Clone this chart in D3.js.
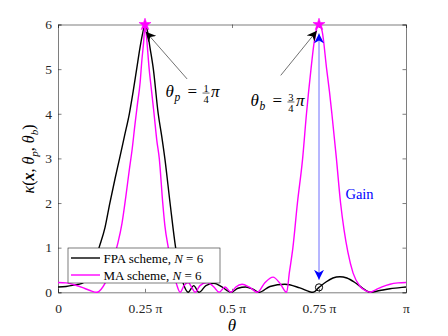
<!DOCTYPE html>
<html>
<head>
<meta charset="utf-8">
<script src="https://cdn.jsdelivr.net/npm/d3@7"></script>
<style>
  body { margin: 0; background: #fff; }
  svg text { font-family: "Liberation Serif", "Times New Roman", Times, serif; }
</style>
</head>
<body>
<svg id="chart" width="448" height="336"></svg>
<script>
// theta in units of pi
var thetaFPA = [0, 0.023, 0.046, 0.069, 0.092, 0.106, 0.118, 0.135, 0.149, 0.164, 0.177, 0.191, 0.205, 0.216, 0.226, 0.236, 0.244, 0.25,
  0.257, 0.264, 0.274, 0.288, 0.298, 0.307, 0.322, 0.338, 0.351, 0.362, 0.374, 0.39, 0.405, 0.425, 0.448, 0.471, 0.497,
  0.517, 0.54, 0.56, 0.578, 0.609, 0.652, 0.695, 0.733, 0.75, 0.77, 0.79, 0.81, 0.83, 0.853, 0.874, 0.897, 0.925, 0.954, 0.977, 1]
var kappaFPA = [0.12, 0.13, 0.16, 0.2, 0.42, 0.7, 1.0, 1.45, 2.0, 2.55, 3.0, 3.5, 4.0, 4.5, 5.0, 5.5, 5.83, 6.0,
  5.85, 5.5, 5.0, 4.0, 3.5, 3.0, 2.0, 1.0, 0.45, 0.15, 0, 0.15, 0, 0.15, 0.2, 0.12, 0,
  0.09, 0.12, 0.07, 0, 0.13, 0.18, 0.1, 0, 0.11, 0.23, 0.32, 0.35, 0.32, 0.22, 0.1, 0, 0.04, 0.08, 0.1, 0.12]

var thetaMA = [0, 0.023, 0.046, 0.069, 0.092, 0.112, 0.124, 0.135, 0.147, 0.158, 0.172, 0.184, 0.195, 0.205, 0.213, 0.221, 0.228, 0.236, 0.241, 0.246, 0.25,
  0.254, 0.262, 0.269, 0.276, 0.284, 0.291, 0.301, 0.307, 0.317, 0.328, 0.34, 0.351, 0.362, 0.374, 0.385, 0.394, 0.408, 0.428, 0.448, 0.463,
  0.48, 0.497, 0.511, 0.529, 0.549, 0.573, 0.595, 0.618, 0.638, 0.657, 0.665, 0.675, 0.688, 0.703, 0.714, 0.727, 0.736, 0.743, 0.75,
  0.759, 0.772, 0.78, 0.787, 0.8, 0.812, 0.822, 0.833, 0.848, 0.868, 0.885, 0.897, 0.914, 0.931, 0.954, 0.977, 1]
var kappaMA = [0.22, 0.21, 0.17, 0.11, 0.04, 0, 0.07, 0.2, 0.42, 0.72, 1.1, 1.55, 2.15, 2.75, 3.2, 3.75, 4.2, 4.7, 5.2, 5.6, 6.0,
  5.75, 5.0, 4.5, 4.0, 3.4, 3.0, 2.0, 1.5, 1.0, 0.55, 0.2, 0, 0.15, 0.22, 0.1, 0, 0.15, 0.22, 0.12, 0,
  0.12, 0, 0.12, 0.18, 0.12, 0, 0.22, 0.34, 0.2, 0, 0.45, 1.0, 2.0, 3.0, 4.0, 5.0, 5.6, 5.9, 6.0,
  5.85, 5.0, 4.5, 4.0, 3.0, 2.0, 1.4, 0.9, 0.43, 0.13, 0.03, 0, 0.06, 0.12, 0.18, 0.21, 0.22]

var xTicks = [0, 0.25, 0.5, 0.75, 1]
var xTickLabels = ["0", "0.25 \u03c0", "0.5 \u03c0", "0.75 \u03c0", "\u03c0"]
var yTicks = [0, 1, 2, 3, 4, 5, 6]
var seriesNames = ["FPA scheme, ", "MA scheme, "]
var seriesColors = ["#000000", "#ff00ff"]
var thetaP = 0.25, thetaB = 0.75

var svg = d3.select("#chart")
var plotL = 58, plotR = 406, plotT = 24.5, plotB = 292.3

var x = d3.scaleLinear().domain([0, 1]).range([plotL, plotR])
var y = d3.scaleLinear().domain([0, 6]).range([plotB, plotT])

var axisColor = "#262626"
var serif = "'Liberation Serif', 'Times New Roman', serif"

// axes with inward ticks, MATLAB box style
svg.append("g").attr("transform", "translate(0," + plotB + ")")
  .call(d3.axisBottom(x).tickValues(xTicks).tickFormat((d, i) => xTickLabels[i]).tickSize(-3.5).tickPadding(11))
svg.append("g").attr("transform", "translate(0," + plotT + ")")
  .call(d3.axisTop(x).tickValues(xTicks).tickFormat("").tickSize(-3.5))
svg.append("g").attr("transform", "translate(" + plotL + ",0)")
  .call(d3.axisLeft(y).tickValues(yTicks).tickFormat(d3.format("d")).tickSize(-3.5).tickPadding(6))
svg.append("g").attr("transform", "translate(" + plotR + ",0)")
  .call(d3.axisRight(y).tickValues(yTicks).tickFormat("").tickSize(-3.5))

svg.selectAll("g").attr("font-family", serif)
svg.selectAll(".domain").attr("stroke", axisColor).attr("stroke-width", 0.6)
svg.selectAll(".tick line").attr("stroke", axisColor).attr("stroke-width", 0.6)
svg.selectAll(".tick text").attr("fill", "#262626").style("font-size", "13.5px")

var line = d3.line()
  .x(d => x(d[0]))
  .y(d => y(d[1]))
  .curve(d3.curveMonotoneX)

var fpa = thetaFPA.map((t, i) => [t, kappaFPA[i]])
var ma = thetaMA.map((t, i) => [t, kappaMA[i]])

svg.append("path").datum(fpa).attr("d", line)
  .attr("fill", "none").attr("stroke", seriesColors[0]).attr("stroke-width", 1.4)
svg.append("path").datum(ma).attr("d", line)
  .attr("fill", "none").attr("stroke", seriesColors[1]).attr("stroke-width", 1.4)

// markers
var peakMA = ma.filter(d => d[0] == thetaP || d[0] == thetaB)
svg.selectAll(".star").data(peakMA).enter().append("path")
  .attr("transform", d => "translate(" + x(d[0]) + "," + y(d[1]) + ")")
  .attr("d", d3.symbol().type(d3.symbolStar).size(45))
  .attr("fill", "#ff00ff").attr("stroke", "#ff00ff").attr("stroke-width", 0.6)

var fpaAtB = fpa.find(d => d[0] == thetaB)
svg.append("circle").attr("cx", x(fpaAtB[0])).attr("cy", y(fpaAtB[1])).attr("r", 3.6)
  .attr("fill", "none").attr("stroke", "#000").attr("stroke-width", 1)

// arrowheads
var defs = svg.append("defs")
function marker(id, color) {
  defs.append("marker").attr("id", id)
    .attr("viewBox", "0 0 10 10").attr("refX", 10).attr("refY", 5)
    .attr("markerWidth", 10).attr("markerHeight", 10)
    .attr("markerUnits", "userSpaceOnUse")
    .attr("orient", "auto-start-reverse")
    .append("path").attr("d", "M0,0 L10,5 L0,10 L3,5 Z").attr("fill", color)
}
marker("arrK", "#000")
marker("arrB", "#0000ff")

// annotation arrows
svg.append("line")
  .attr("x1", x(0.371)).attr("y1", y(4.78)).attr("x2", x(0.252)).attr("y2", y(5.84))
  .attr("stroke", "#333").attr("stroke-width", 0.7).attr("marker-end", "url(#arrK)")
svg.append("line")
  .attr("x1", x(0.64)).attr("y1", y(4.86)).attr("x2", x(0.744)).attr("y2", y(5.86))
  .attr("stroke", "#333").attr("stroke-width", 0.7).attr("marker-end", "url(#arrK)")

svg.append("line")
  .attr("x1", x(thetaB)).attr("y1", y(0.28)).attr("x2", x(thetaB)).attr("y2", y(5.8))
  .attr("stroke", "#4a4aff").attr("stroke-width", 0.8)
  .attr("marker-start", "url(#arrB)").attr("marker-end", "url(#arrB)")

svg.append("text").attr("x", x(0.826)).attr("y", y(2.2) + 5)
  .attr("fill", "#0000ff").style("font-size", "14.5px").text("Gain")

// theta = fraction * pi labels
function thetaLabel(px, py, sub, num, den) {
  var g = svg.append("g").attr("transform", "translate(" + px + "," + py + ")")
  g.append("text").attr("x", 0).attr("y", 0).style("font-size", "17px").style("font-style", "italic").text("\u03b8")
  g.append("text").attr("x", 9).attr("y", 4).style("font-size", "11.5px").style("font-style", "italic").text(sub)
  g.append("text").attr("x", 22).attr("y", 0).style("font-size", "17px").text("=")
  g.append("text").attr("x", 40.5).attr("y", -5.5).attr("text-anchor", "middle").style("font-size", "10.5px").text(num)
  g.append("line").attr("x1", 37).attr("x2", 44).attr("y1", -4.2).attr("y2", -4.2).attr("stroke", "#000").attr("stroke-width", 0.6)
  g.append("text").attr("x", 40.5).attr("y", 5.5).attr("text-anchor", "middle").style("font-size", "10.5px").text(den)
  g.append("text").attr("x", 45.5).attr("y", 0).style("font-size", "17px").style("font-style", "italic").text("\u03c0")
}
thetaLabel(x(0.309), y(4.37), "p", "1", "4")
thetaLabel(x(0.553), y(4.17), "b", "3", "4")

// axis labels
svg.append("text").attr("x", x(0.5)).attr("y", 331).attr("text-anchor", "middle")
  .style("font-size", "17px").style("font-style", "italic").text("\u03b8")

var yl = svg.append("text").attr("transform", "translate(34,159) rotate(-90)")
  .attr("text-anchor", "middle").style("font-size", "16px")
yl.append("tspan").style("font-style", "italic").text("\u03ba")
yl.append("tspan").text("(")
yl.append("tspan").style("font-style", "italic").style("font-weight", "bold").text("x")
yl.append("tspan").text(", ")
yl.append("tspan").style("font-style", "italic").text("\u03b8")
yl.append("tspan").style("font-style", "italic").style("font-size", "11px").attr("dy", 4).text("p")
yl.append("tspan").attr("dy", -4).text(", ")
yl.append("tspan").style("font-style", "italic").text("\u03b8")
yl.append("tspan").style("font-style", "italic").style("font-size", "11px").attr("dy", 4).text("b")
yl.append("tspan").attr("dy", -4).text(")")

// legend
var lg = svg.append("g").attr("transform", "translate(68,248)")
lg.append("rect").attr("width", 152).attr("height", 35)
  .attr("fill", "#fff").attr("stroke", axisColor).attr("stroke-width", 0.6)
seriesNames.forEach((name, i) => {
  var cy = 10 + i * 17
  lg.append("line").attr("x1", 3).attr("x2", 32).attr("y1", cy).attr("y2", cy)
    .attr("stroke", seriesColors[i]).attr("stroke-width", 1.4)
  var t = lg.append("text").attr("x", 35.5).attr("y", cy + 4.5).style("font-size", "13px")
  t.append("tspan").text(name)
  t.append("tspan").style("font-style", "italic").text("N")
  t.append("tspan").text(" = 6")
})
</script>
</body>
</html>
